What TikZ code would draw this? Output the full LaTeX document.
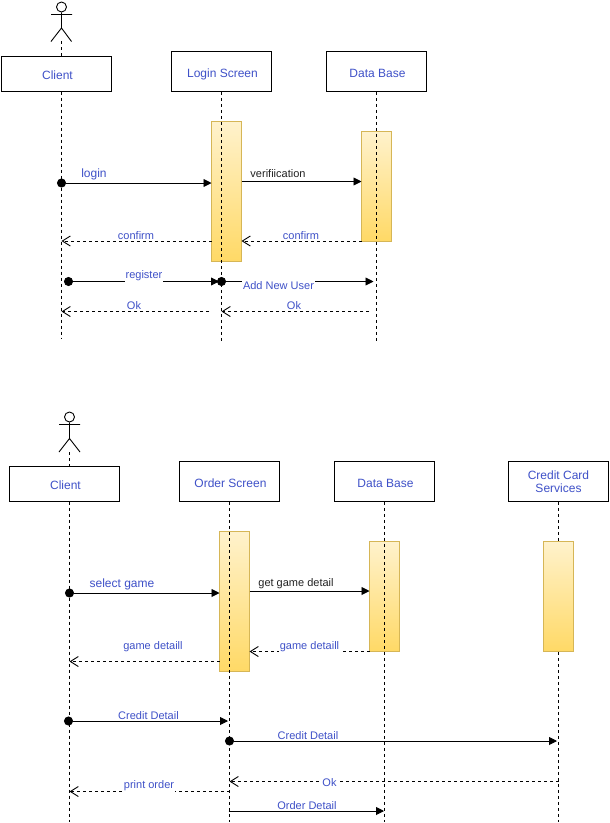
\documentclass[tikz,border=0pt]{standalone}
\usepackage{fontspec}
\setmainfont{Liberation Sans}
\usetikzlibrary{arrows.meta}
\definecolor{lab}{HTML}{3F51C8}
\definecolor{dark}{HTML}{222222}
\definecolor{barline}{HTML}{D6B656}
\definecolor{bartop}{HTML}{FFF2CC}
\definecolor{barbot}{HTML}{FFD966}
\tikzset{
  box/.style={draw=black,line width=0.9pt,fill=white,inner sep=0pt,align=center,text=lab,font=\fontsize{12}{13.7}\selectfont},
  head/.style={box,minimum width=100pt,minimum height=40pt,text height=11.6pt,text depth=0pt},
  wide/.style={box,minimum width=110pt,minimum height=35pt,text height=10pt,text depth=0pt},
  bar/.style={draw=barline,line width=0.9pt,top color=bartop,bottom color=barbot,inner sep=0pt,minimum width=30pt},
  life/.style={line width=0.9pt,dash pattern=on 3pt off 3pt},
  msg/.style={line width=0.9pt,shorten <=-4.5pt,{Circle[length=9pt]}-{Triangle[length=8pt,width=8pt]}},
  call/.style={line width=0.9pt,-{Triangle[length=8pt,width=8pt]}},
  ret/.style={line width=0.9pt,dash pattern=on 3pt off 3pt,-{Straight Barb[length=8pt,width=10pt]}},
  lbl/.style={fill=white,inner xsep=1pt,inner ysep=1pt,text=lab,font=\fontsize{11}{12}\selectfont},
  big/.style={lbl,font=\fontsize{12}{13}\selectfont},
  drk/.style={lbl,fill=none,text=dark},
  limb/.style={line width=0.9pt},
  hd/.style={draw=black,line width=0.9pt,circle,minimum size=10pt,inner sep=0pt}
}
\begin{document}
\begin{tikzpicture}[x=1pt,y=-1pt]
\useasboundingbox (0,0) rectangle (610,823);
\fill[white] (0,0) rectangle (610,823);
% ---- top diagram: heads
\node[wide] (c1) at (56.5,74) {\kern2pt Client};
\node[head] (l1) at (221.5,71.5) {\kern2pt Login Screen};
\node[head] (d1) at (376.5,71.5) {\kern2pt Data Base};
\node[bar,minimum height=140pt] (lb1) at (226.5,191.5) {};
\node[bar,minimum height=110pt] (db1) at (376.5,186.5) {};
\coordinate (c1t) at (61.5,41);
\coordinate (c1a) at (61.5,56.5);
\coordinate (c1b) at (61.5,91.5);
\coordinate (c1e) at (61.5,339);
\coordinate (l1e) at (221.5,341);
\coordinate (d1e) at (376.5,341);
\draw[life] (c1t) -- (c1a);
\draw[life] (c1b) -- (c1e);
\draw[life] (l1.south) -- (l1e);
\draw[life] (d1.south) -- (d1e);
% actor 1
\node[hd] (h1) at (61.5,7) {};
\coordinate (h1hip) at (61.5,28);
\draw[limb] (h1.south) -- (h1hip) -- (51,41.5) (h1hip) -- (71.5,41.5) (51,14.5) -- (72,14.5);
% top messages
\coordinate (a1) at (61.5,183); \coordinate (a1e) at (211.5,183);
\draw[msg] (a1) -- (a1e);
\node[big] (t1) at (94,174.5) {login};
\coordinate (a2) at (241.5,181.5); \coordinate (a2e) at (361.5,181.5);
\draw[call] (a2) -- (a2e);
\node[drk] (t2) at (278,173.5) {verifiication};
\coordinate (a3) at (211.5,241); \coordinate (a3e) at (61.5,241);
\draw[ret] (a3) -- (a3e);
\node[lbl] (t3) at (136,236) {confirm};
\coordinate (a4) at (361.5,241); \coordinate (a4e) at (241.5,241);
\draw[ret] (a4) -- (a4e);
\node[lbl] (t4) at (301,236) {confirm};
\coordinate (a5) at (68.5,281.5); \coordinate (a5e) at (219,281.5);
\draw[msg] (a5) -- (a5e);
\node[lbl] (t5) at (144,276) {register};
\coordinate (a6) at (221.5,281.5); \coordinate (a6e) at (373.5,281.5);
\draw[msg] (a6) -- (a6e);
\node[lbl] (t6) at (278.5,285.5) {Add New User};
\coordinate (a7) at (209,311.5); \coordinate (a7e) at (61.5,311.5);
\draw[ret] (a7) -- (a7e);
\node[lbl] (t7) at (134,305.5) {Ok};
\coordinate (a8) at (369,311.5); \coordinate (a8e) at (221.5,311.5);
\draw[ret] (a8) -- (a8e);
\node[lbl] (t8) at (294,305.5) {Ok};
% ---- bottom diagram: heads
\node[wide] (c2) at (64.5,484) {\kern2pt Client};
\node[head] (l2) at (229.5,481.5) {\kern2pt Order Screen};
\node[head] (d2) at (384.5,481.5) {\kern2pt Data Base};
\node[box,minimum width=100pt,minimum height=40pt,text depth=0pt] (s2) at (558.5,481.5) {Credit Card\\Services};
\coordinate (c2t) at (69.5,452);
\coordinate (c2a) at (69.5,466.5);
\coordinate (c2b) at (69.5,501.5);
\coordinate (c2e) at (69.5,822);
\coordinate (l2e) at (229.5,822);
\coordinate (d2e) at (384.5,822);
\coordinate (s2e) at (558.5,822);
\draw[life] (c2t) -- (c2a);
\draw[life] (c2b) -- (c2e);
\draw[life] (s2.south) -- (s2e);
\node[bar,minimum height=110pt] (sb2) at (558.5,596.5) {};
\node[bar,minimum height=140pt] (lb2) at (234.5,601.5) {};
\node[bar,minimum height=110pt] (db2) at (384.5,596.5) {};
\draw[life] (l2.south) -- (l2e);
\draw[life] (d2.south) -- (d2e);
% actor 2
\node[hd] (h2) at (69.5,417) {};
\coordinate (h2hip) at (69.5,438.5);
\draw[limb] (h2.south) -- (h2hip) -- (59,452) (h2hip) -- (80,452) (59,424.5) -- (80,424.5);
% bottom messages
\coordinate (b1) at (69.5,593); \coordinate (b1e) at (219.5,593);
\draw[msg] (b1) -- (b1e);
\node[big] (u1) at (122,584.5) {select game};
\coordinate (b2) at (249.5,591); \coordinate (b2e) at (369.5,591);
\draw[call] (b2) -- (b2e);
\node[drk] (u2) at (296,584) {get game detail};
\coordinate (b3) at (369.5,651.5); \coordinate (b3e) at (249.5,651.5);
\draw[ret] (b3) -- (b3e);
\node[lbl] (u3) at (309.5,646.5) {game detaill};
\coordinate (b4) at (219.5,661.5); \coordinate (b4e) at (69.5,661.5);
\draw[ret] (b4) -- (b4e);
\node[lbl] (u4) at (153,646.5) {game detaill};
\coordinate (b5) at (68.5,721); \coordinate (b5e) at (228,721);
\draw[msg] (b5) -- (b5e);
\node[lbl] (u5) at (148.5,716) {Credit Detail};
\coordinate (b6) at (229.5,741); \coordinate (b6e) at (557,741);
\draw[msg] (b6) -- (b6e);
\node[lbl] (u6) at (308,736) {Credit Detail};
\coordinate (b7) at (558.5,781.5); \coordinate (b7e) at (229.5,781.5);
\draw[ret] (b7) -- (b7e);
\node[lbl] (u7) at (329.5,783) {Ok};
\coordinate (b8) at (229.5,791.5); \coordinate (b8e) at (69.5,791.5);
\draw[ret] (b8) -- (b8e);
\node[lbl] (u8) at (149,786) {print order};
\coordinate (b9) at (228.5,811); \coordinate (b9e) at (384,811);
\draw[call] (b9) -- (b9e);
\node[lbl] (u9) at (307,806) {Order Detail};
\end{tikzpicture}
\end{document}
